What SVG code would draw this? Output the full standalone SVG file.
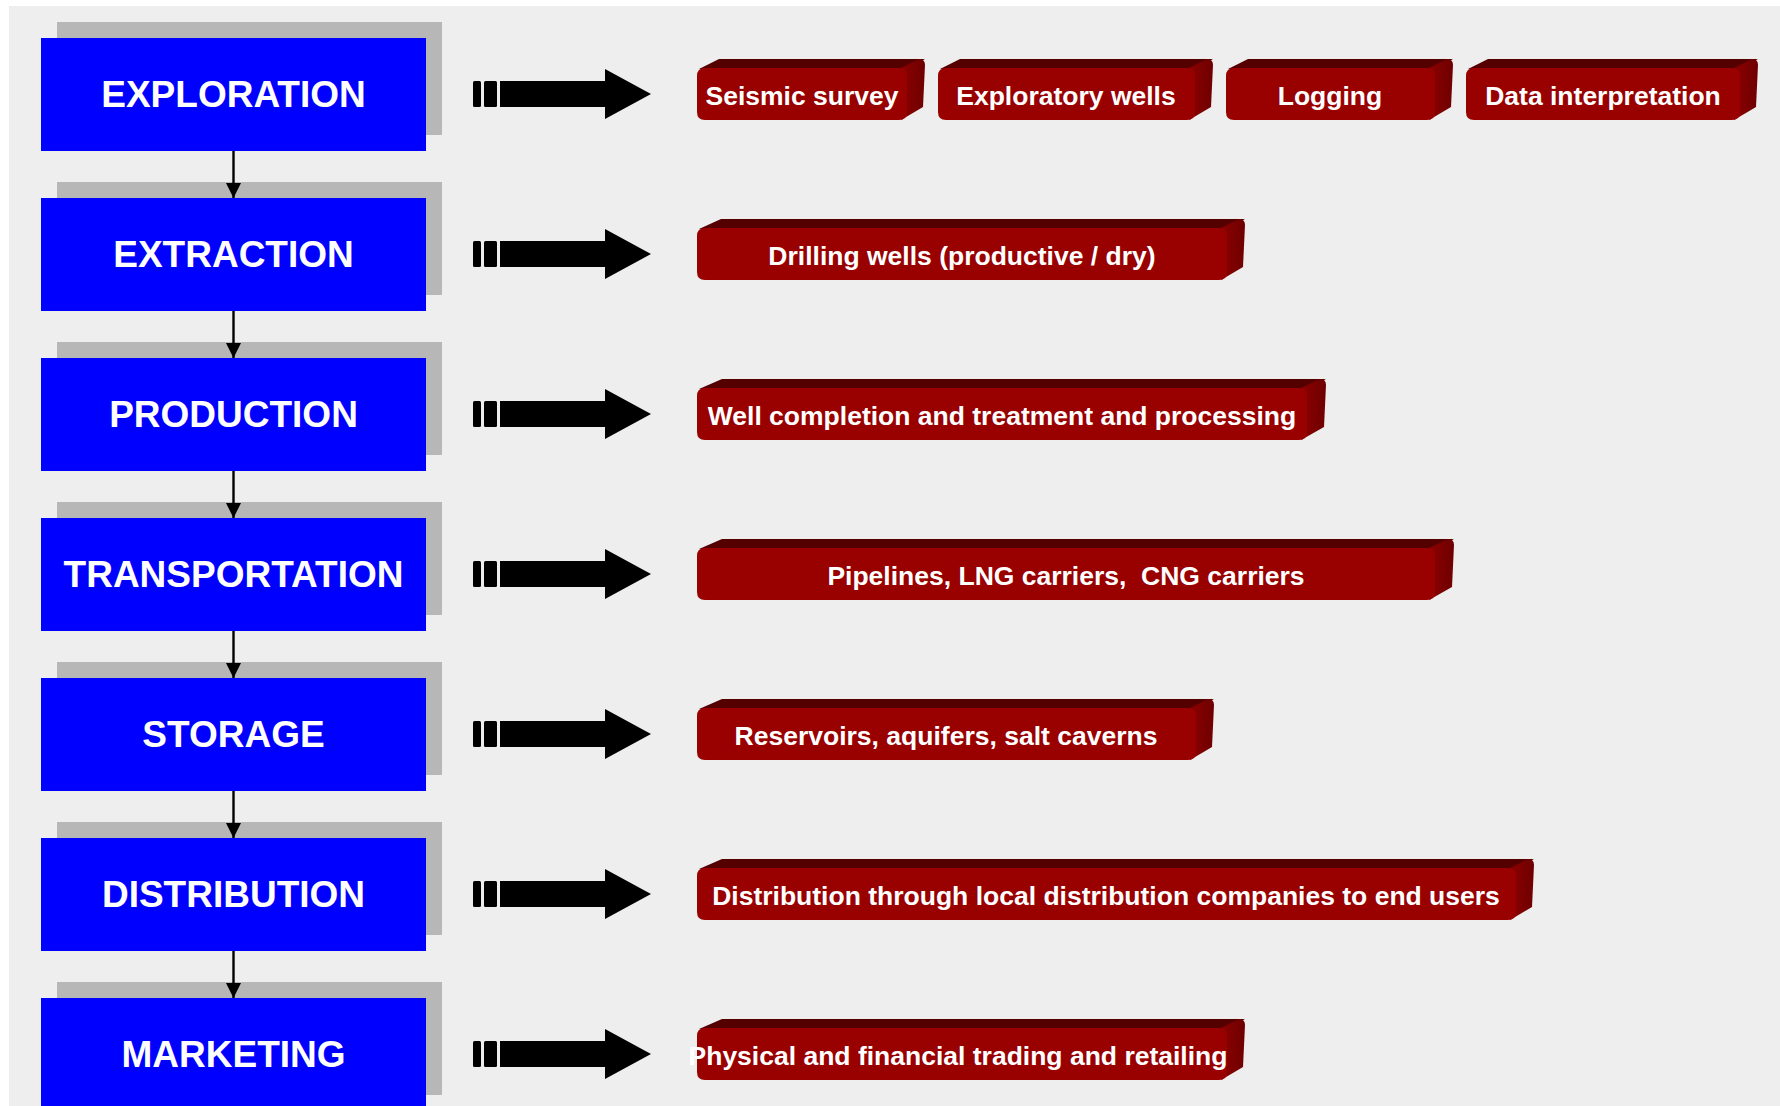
<svg xmlns="http://www.w3.org/2000/svg" width="1780" height="1106" viewBox="0 0 1780 1106">
<style>
.bg{fill:#eeeeee}
.shadow{fill:#b7b7b7}
.stage{fill:#0000ff}
.stxt{font-family:"Liberation Sans",Arial,sans-serif;font-weight:bold;font-size:37px;fill:#ffffff;text-anchor:middle}
.front{fill:#990000}
.top{fill:#550000}
.side{fill:url(#sideGrad)}
.rtxt{font-family:"Liberation Sans",Arial,sans-serif;font-weight:bold;font-size:26.5px;fill:#ffffff;text-anchor:middle;white-space:pre}
.conn{stroke:#000000;stroke-width:2.4;fill:none}
.blk{fill:#000000}
</style>
<defs>
<linearGradient id="sideGrad" x1="0" y1="0" x2="1" y2="0">
<stop offset="0" stop-color="#8c0000"/>
<stop offset="1" stop-color="#6e0000"/>
</linearGradient>
<marker id="ah" viewBox="0 0 16 15" refX="15" refY="7.5" markerWidth="16" markerHeight="15" markerUnits="userSpaceOnUse" orient="auto">
<path d="M0,0 L15,7.5 L0,15 z" fill="#000000"/>
</marker>
<g id="blockArrow">
<rect x="473" y="-13" width="8" height="26" rx="1.5" class="blk"/>
<rect x="484" y="-13" width="13" height="26" rx="1.5" class="blk"/>
<path d="M500,-13 L605,-13 L605,-25 L651,0 L605,25 L605,13 L500,13 z" class="blk"/>
</g>
</defs>

<rect x="9" y="6" width="1771" height="1100" class="bg"/>

<g id="block-arrows">
<use href="#blockArrow" transform="translate(0,94)"/>
<use href="#blockArrow" transform="translate(0,254)"/>
<use href="#blockArrow" transform="translate(0,414)"/>
<use href="#blockArrow" transform="translate(0,574)"/>
<use href="#blockArrow" transform="translate(0,734)"/>
<use href="#blockArrow" transform="translate(0,894)"/>
<use href="#blockArrow" transform="translate(0,1054)"/>
</g>

<g id="stage-exploration">
<rect x="57" y="22" width="385" height="113" class="shadow"/>
<rect x="41" y="38" width="385" height="113" class="stage"/>
<text x="233.5" y="107" class="stxt">EXPLORATION</text>
</g>
<g id="stage-extraction">
<rect x="57" y="182" width="385" height="113" class="shadow"/>
<rect x="41" y="198" width="385" height="113" class="stage"/>
<text x="233.5" y="267" class="stxt">EXTRACTION</text>
</g>
<g id="stage-production">
<rect x="57" y="342" width="385" height="113" class="shadow"/>
<rect x="41" y="358" width="385" height="113" class="stage"/>
<text x="233.5" y="427" class="stxt">PRODUCTION</text>
</g>
<g id="stage-transportation">
<rect x="57" y="502" width="385" height="113" class="shadow"/>
<rect x="41" y="518" width="385" height="113" class="stage"/>
<text x="233.5" y="587" class="stxt">TRANSPORTATION</text>
</g>
<g id="stage-storage">
<rect x="57" y="662" width="385" height="113" class="shadow"/>
<rect x="41" y="678" width="385" height="113" class="stage"/>
<text x="233.5" y="747" class="stxt">STORAGE</text>
</g>
<g id="stage-distribution">
<rect x="57" y="822" width="385" height="113" class="shadow"/>
<rect x="41" y="838" width="385" height="113" class="stage"/>
<text x="233.5" y="907" class="stxt">DISTRIBUTION</text>
</g>
<g id="stage-marketing">
<rect x="57" y="982" width="385" height="113" class="shadow"/>
<rect x="41" y="998" width="385" height="113" class="stage"/>
<text x="233.5" y="1067" class="stxt">MARKETING</text>
</g>

<g id="connectors">
<line x1="233.5" y1="151" x2="233.5" y2="198" class="conn" marker-end="url(#ah)"/>
<line x1="233.5" y1="311" x2="233.5" y2="358" class="conn" marker-end="url(#ah)"/>
<line x1="233.5" y1="471" x2="233.5" y2="518" class="conn" marker-end="url(#ah)"/>
<line x1="233.5" y1="631" x2="233.5" y2="678" class="conn" marker-end="url(#ah)"/>
<line x1="233.5" y1="791" x2="233.5" y2="838" class="conn" marker-end="url(#ah)"/>
<line x1="233.5" y1="951" x2="233.5" y2="998" class="conn" marker-end="url(#ah)"/>
</g>

<!-- Row 1 -->
<g id="task-seismic">
<path d="M699,69 L719,59 L925,59 L907,69 z" class="top"/>
<path d="M901,68 L919,59 Q925,59 925,65 L923,107 L901,120 z" class="side"/>
<path d="M705,68 L899,68 Q907,68 907,76 L907,112 Q907,120 899,120 L705,120 Q697,120 697,112 L697,76 Q697,68 705,68 z" class="front"/>
<text x="802" y="105" class="rtxt">Seismic survey</text>
</g>
<g id="task-exploratory">
<path d="M940,69 L960,59 L1213,59 L1195,69 z" class="top"/>
<path d="M1189,68 L1207,59 Q1213,59 1213,65 L1211,107 L1189,120 z" class="side"/>
<path d="M946,68 L1187,68 Q1195,68 1195,76 L1195,112 Q1195,120 1187,120 L946,120 Q938,120 938,112 L938,76 Q938,68 946,68 z" class="front"/>
<text x="1066" y="105" class="rtxt">Exploratory wells</text>
</g>
<g id="task-logging">
<path d="M1228,69 L1248,59 L1453,59 L1435,69 z" class="top"/>
<path d="M1429,68 L1447,59 Q1453,59 1453,65 L1451,107 L1429,120 z" class="side"/>
<path d="M1234,68 L1427,68 Q1435,68 1435,76 L1435,112 Q1435,120 1427,120 L1234,120 Q1226,120 1226,112 L1226,76 Q1226,68 1234,68 z" class="front"/>
<text x="1330" y="105" class="rtxt">Logging</text>
</g>
<g id="task-data">
<path d="M1468,69 L1488,59 L1758,59 L1740,69 z" class="top"/>
<path d="M1734,68 L1752,59 Q1758,59 1758,65 L1756,107 L1734,120 z" class="side"/>
<path d="M1474,68 L1732,68 Q1740,68 1740,76 L1740,112 Q1740,120 1732,120 L1474,120 Q1466,120 1466,112 L1466,76 Q1466,68 1474,68 z" class="front"/>
<text x="1603" y="105" class="rtxt">Data interpretation</text>
</g>

<!-- Row 2 -->
<g id="task-drilling">
<path d="M699,229 L721,219 L1245,219 L1227,229 z" class="top"/>
<path d="M1221,228 L1239,219 Q1245,219 1245,225 L1243,267 L1221,280 z" class="side"/>
<path d="M705,228 L1219,228 Q1227,228 1227,236 L1227,272 Q1227,280 1219,280 L705,280 Q697,280 697,272 L697,236 Q697,228 705,228 z" class="front"/>
<text x="962" y="265" class="rtxt">Drilling wells (productive / dry)</text>
</g>

<!-- Row 3 -->
<g id="task-completion">
<path d="M699,389 L722,379 L1326,379 L1307,389 z" class="top"/>
<path d="M1301,388 L1320,379 Q1326,379 1326,385 L1324,427 L1301,440 z" class="side"/>
<path d="M705,388 L1299,388 Q1307,388 1307,396 L1307,432 Q1307,440 1299,440 L705,440 Q697,440 697,432 L697,396 Q697,388 705,388 z" class="front"/>
<text x="1002" y="425" class="rtxt">Well completion and treatment and processing</text>
</g>

<!-- Row 4 -->
<g id="task-pipelines">
<path d="M699,549 L722,539 L1454,539 L1435,549 z" class="top"/>
<path d="M1429,548 L1448,539 Q1454,539 1454,545 L1452,587 L1429,600 z" class="side"/>
<path d="M705,548 L1427,548 Q1435,548 1435,556 L1435,592 Q1435,600 1427,600 L705,600 Q697,600 697,592 L697,556 Q697,548 705,548 z" class="front"/>
<text x="1066" y="585" class="rtxt" xml:space="preserve">Pipelines, LNG carriers,  CNG carriers</text>
</g>

<!-- Row 5 -->
<g id="task-reservoirs">
<path d="M699,709 L722,699 L1214,699 L1196,709 z" class="top"/>
<path d="M1190,708 L1208,699 Q1214,699 1214,705 L1212,747 L1190,760 z" class="side"/>
<path d="M705,708 L1188,708 Q1196,708 1196,716 L1196,752 Q1196,760 1188,760 L705,760 Q697,760 697,752 L697,716 Q697,708 705,708 z" class="front"/>
<text x="946" y="745" class="rtxt">Reservoirs, aquifers, salt caverns</text>
</g>

<!-- Row 6 -->
<g id="task-distribution">
<path d="M699,869 L722,859 L1534,859 L1516,869 z" class="top"/>
<path d="M1510,868 L1528,859 Q1534,859 1534,865 L1532,907 L1510,920 z" class="side"/>
<path d="M705,868 L1508,868 Q1516,868 1516,876 L1516,912 Q1516,920 1508,920 L705,920 Q697,920 697,912 L697,876 Q697,868 705,868 z" class="front"/>
<text x="1106" y="905" class="rtxt">Distribution through local distribution companies to end users</text>
</g>

<!-- Row 7 -->
<g id="task-trading">
<path d="M699,1029 L722,1019 L1245,1019 L1227,1029 z" class="top"/>
<path d="M1221,1028 L1239,1019 Q1245,1019 1245,1025 L1243,1067 L1221,1080 z" class="side"/>
<path d="M705,1028 L1219,1028 Q1227,1028 1227,1036 L1227,1072 Q1227,1080 1219,1080 L705,1080 Q697,1080 697,1072 L697,1036 Q697,1028 705,1028 z" class="front"/>
<text x="958" y="1065" class="rtxt">Physical and financial trading and retailing</text>
</g>
</svg>
